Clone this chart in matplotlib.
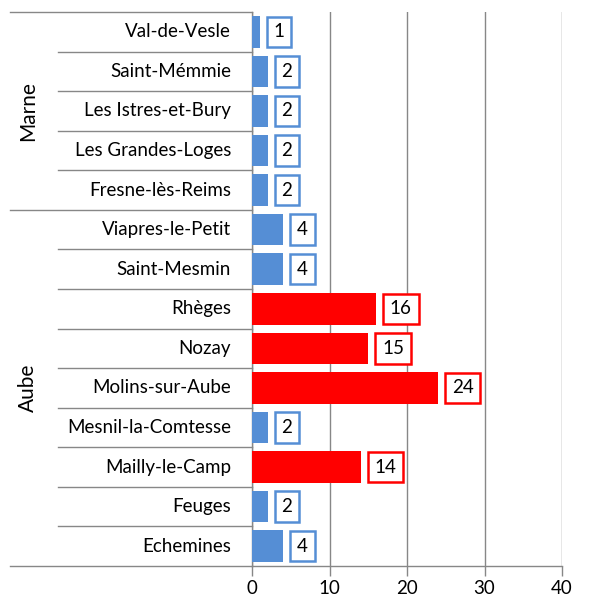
import matplotlib
matplotlib.use("Agg")
import matplotlib.pyplot as plt
from matplotlib.transforms import blended_transform_factory

plt.rcParams['font.family'] = ['Lato', 'DejaVu Sans']

# data, top to bottom
communes = ["Val-de-Vesle", "Saint-Mémmie", "Les Istres-et-Bury", "Les Grandes-Loges",
            "Fresne-lès-Reims", "Viapres-le-Petit", "Saint-Mesmin", "Rhèges", "Nozay",
            "Molins-sur-Aube", "Mesnil-la-Comtesse", "Mailly-le-Camp", "Feuges", "Echemines"]
values = [1, 2, 2, 2, 2, 4, 4, 16, 15, 24, 2, 14, 2, 4]
groups = ["Marne", "Aube"]
group_sizes = [5, 9]
x_ticks = [0, 10, 20, 30, 40]

BLUE = "#558ED5"
RED = "#FF0000"
GRAY = "#878787"
THRESH = 10
FS = 13.5

fig = plt.figure(figsize=(5.9, 6.03), dpi=100)
ax = fig.add_axes([252/590, 1 - 566/603, 310/590, 554/603])

ypos = list(range(len(communes)))
colors = [RED if v > THRESH else BLUE for v in values]
ax.barh(ypos, values, height=0.8, color=colors, zorder=3)

for y, v, c in zip(ypos, values, colors):
    ax.annotate(str(v), xy=(v, y), xytext=(10, 0), textcoords='offset points',
                ha='left', va='center', fontsize=FS, color='black', zorder=4,
                bbox=dict(boxstyle='square,pad=0.36', fc='white', ec=c, lw=1.8))

ax.set_xlim(0, 40)
ax.set_ylim(len(communes) - 0.5, -0.5)
ax.set_xticks(x_ticks)
ax.set_xticklabels([str(t) for t in x_ticks], fontsize=FS)
ax.tick_params(axis='x', length=7, width=1, color=GRAY, pad=3)
ax.set_yticks([])
ax.grid(axis='x', color=GRAY, lw=1, zorder=0)
for s in ['top', 'right']:
    ax.spines[s].set_visible(False)
for s in ['left', 'bottom']:
    ax.spines[s].set_color(GRAY)
    ax.spines[s].set_linewidth(1)

tr = blended_transform_factory(ax.transAxes, ax.transData)
x_inner = -(252 - 58) / 310
x_outer = -(252 - 10) / 310

# category labels
for y, name in zip(ypos, communes):
    ax.text(-21/310, y, name, transform=tr, ha='right', va='center', fontsize=FS)

# separator lines
group_edges = [-0.5]
for n in group_sizes:
    group_edges.append(group_edges[-1] + n)
for k in range(len(communes) + 1):
    b = k - 0.5
    x0 = x_outer if b in group_edges else x_inner
    ax.plot([x0, 0], [b, b], transform=tr, color=GRAY, lw=1, clip_on=False, zorder=5)

# group labels
for g, lo, hi in zip(groups, group_edges[:-1], group_edges[1:]):
    ax.text(-(252 - 28) / 310, (lo + hi) / 2, g, transform=tr, rotation=90,
            ha='center', va='center', fontsize=15)

fig.savefig("out.png", dpi=100)
